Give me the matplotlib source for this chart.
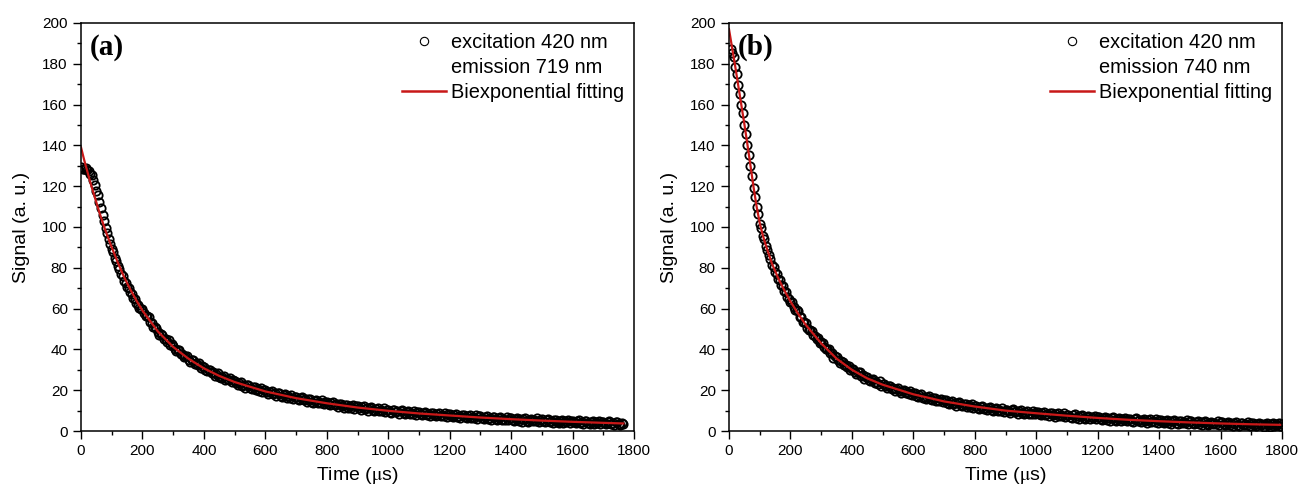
import matplotlib
matplotlib.use("Agg")
import matplotlib.pyplot as plt
from matplotlib.lines import Line2D
from matplotlib.ticker import MultipleLocator

plt.rcParams["font.family"] = ["Liberation Sans", "DejaVu Sans"]
plt.rcParams["mathtext.fontset"] = "stix"

# panel (a): excitation 420 nm / emission 719 nm, read every 5 us from t = 0
signal_a = [
    129.5, 128.6, 128.3, 129.1, 127.7, 127.6, 126.2, 125.3, 122.9, 120.8,
    117.6, 115.5, 112.1, 109.4, 106.0, 103.1, 99.7, 97.2, 94.0, 91.6,
    89.3, 87.6, 84.8, 83.3, 80.7, 79.3, 77.2, 75.8, 73.6, 72.7,
    70.8, 69.9, 67.9, 67.0, 65.1, 64.5, 62.6, 62.0, 60.2, 59.8,
    59.6, 57.7, 56.2, 56.3, 55.8, 53.4, 53.1, 50.9, 51.2, 50.6,
    48.4, 47.1, 47.6, 47.2, 45.2, 45.1, 43.8, 44.5, 42.0, 42.5,
    41.8, 40.3, 39.2, 39.9, 39.8, 37.8, 37.9, 36.1, 37.0, 36.8,
    35.0, 34.0, 34.8, 34.7, 32.9, 33.2, 32.2, 33.1, 30.9, 31.7,
    31.3, 30.0, 29.2, 30.0, 30.1, 28.4, 28.7, 27.1, 28.1, 28.2,
    26.6, 25.8, 26.7, 26.8, 25.2, 25.6, 24.8, 25.9, 23.9, 24.8,
    24.6, 23.5, 22.7, 23.7, 23.9, 22.3, 22.7, 21.3, 22.4, 22.6,
    21.1, 20.4, 21.4, 21.6, 20.1, 20.6, 19.8, 21.0, 19.1, 20.1,
    20.0, 18.9, 18.2, 19.3, 19.6, 18.0, 18.5, 17.1, 18.4, 18.6,
    17.2, 16.6, 17.6, 17.9, 16.4, 17.0, 16.3, 17.6, 15.7, 16.8,
    16.7, 15.7, 15.0, 16.1, 16.5, 15.0, 15.5, 14.2, 15.5, 15.7,
    14.4, 13.8, 14.9, 15.1, 13.7, 14.3, 13.7, 15.0, 13.1, 14.2,
    14.2, 13.2, 12.6, 13.7, 14.1, 12.6, 13.1, 11.8, 13.1, 13.4,
    12.1, 11.5, 12.6, 12.9, 11.5, 12.1, 11.5, 12.8, 11.0, 12.1,
    12.1, 11.1, 10.5, 11.7, 12.1, 10.6, 11.2, 9.9, 11.3, 11.6,
    10.3, 9.7, 10.8, 11.2, 9.8, 10.4, 9.8, 11.1, 9.4, 10.5,
    10.5, 9.5, 9.0, 10.1, 10.5, 9.1, 9.7, 8.4, 9.7, 10.1,
    8.8, 8.2, 9.4, 9.7, 8.4, 9.0, 8.4, 9.8, 8.0, 9.2,
    9.2, 8.3, 7.7, 8.9, 9.3, 7.9, 8.5, 7.3, 8.6, 9.0,
    7.7, 7.2, 8.3, 8.7, 7.3, 8.0, 7.4, 8.8, 7.0, 8.2,
    8.2, 7.3, 6.7, 7.9, 8.3, 6.9, 7.5, 6.3, 7.6, 8.0,
    6.7, 6.2, 7.3, 7.7, 6.3, 7.0, 6.4, 7.8, 6.0, 7.2,
    7.2, 6.3, 5.7, 6.9, 7.3, 5.9, 6.6, 5.3, 6.7, 7.0,
    5.8, 5.3, 6.4, 6.8, 5.4, 6.1, 5.6, 6.9, 5.2, 6.3,
    6.4, 5.5, 4.9, 6.1, 6.5, 5.1, 5.8, 4.5, 5.9, 6.2,
    5.0, 4.5, 5.6, 6.0, 4.7, 5.4, 4.8, 6.2, 4.5, 5.6,
    5.7, 4.8, 4.2, 5.4, 5.9, 4.5, 5.1, 3.9, 5.3, 5.6,
    4.4, 3.9, 5.0, 5.4, 4.1, 4.8, 4.2, 5.6, 3.9, 5.0,
    5.1, 4.2, 3.7, 4.8, 5.3, 3.9, 4.6, 3.4, 4.7, 5.1,
    3.9, 3.4, 4.5, 4.9, 3.6, 4.3, 3.7, 5.1, 3.4, 4.5,
    4.6, 3.7, 3.2, 4.3, 4.8, 3.4, 4.1, 2.9, 4.2, 4.6,
    3.4, 2.9, 4.0, 3.5,
]
time_a = [5 * i for i in range(len(signal_a))]

fit_time_a = [0, 10, 20, 30, 40, 50, 60, 70, 80, 90, 100, 120, 140, 160, 180,
              200, 250, 300, 350, 400, 450, 500, 600, 700, 800, 900, 1000,
              1100, 1200, 1300, 1400, 1500, 1600, 1700, 1765]
fit_a = [139, 133, 127.5, 122, 117, 112, 107, 102.5, 98, 94, 90, 82.5, 75.5, 69.5, 64,
         59, 48.8, 41.2, 35.4, 30.7, 27.0, 24.0, 19.4, 16.1, 13.6, 11.5, 9.9,
         8.6, 7.6, 6.6, 5.8, 5.1, 4.5, 4.0, 3.7]

# panel (b): excitation 420 nm / emission 740 nm, read every 5 us from t = 5
signal_b = [
    187.2, 185.1, 183.4, 178.6, 174.9, 169.6, 165.3, 159.7, 155.8, 150.2,
    145.8, 140.2, 135.4, 129.7, 124.9, 119.2, 114.9, 109.6, 106.4, 101.6,
    99.4, 95.7, 93.9, 90.6, 88.9, 86.1, 84.4, 81.6, 80.4, 78.1,
    76.9, 74.6, 73.9, 71.6, 70.9, 68.6, 67.9, 65.6, 64.9, 63.2,
    63.0, 60.9, 59.3, 59.3, 58.7, 56.1, 55.7, 53.3, 53.6, 52.8,
    50.7, 49.3, 49.6, 49.1, 46.9, 46.7, 45.3, 45.8, 43.2, 43.5,
    42.9, 41.2, 40.0, 40.4, 40.2, 38.0, 38.0, 36.0, 36.7, 36.3,
    34.6, 33.5, 34.2, 34.0, 32.2, 32.3, 31.3, 32.1, 29.9, 30.5,
    30.2, 28.9, 27.9, 28.7, 28.8, 27.0, 27.3, 25.6, 26.6, 26.6,
    25.1, 24.3, 25.2, 25.3, 23.7, 24.0, 23.2, 24.3, 22.3, 23.2,
    23.0, 21.9, 21.1, 22.1, 22.3, 20.6, 21.1, 19.6, 20.8, 20.9,
    19.5, 18.8, 19.8, 20.0, 18.5, 18.9, 18.2, 19.4, 17.5, 18.5,
    18.4, 17.3, 16.7, 17.7, 18.0, 16.4, 16.9, 15.6, 16.8, 17.0,
    15.6, 15.0, 16.0, 16.2, 14.8, 15.3, 14.6, 15.8, 14.0, 15.0,
    15.0, 13.9, 13.3, 14.4, 14.8, 13.2, 13.8, 12.5, 13.7, 14.0,
    12.7, 12.1, 13.1, 13.4, 12.0, 12.6, 12.0, 13.2, 11.4, 12.5,
    12.5, 11.5, 10.9, 12.0, 12.4, 10.9, 11.5, 10.2, 11.5, 11.8,
    10.5, 9.9, 11.0, 11.3, 9.9, 10.5, 9.9, 11.2, 9.4, 10.5,
    10.5, 9.6, 9.0, 10.1, 10.6, 9.1, 9.7, 8.4, 9.8, 10.1,
    8.8, 8.3, 9.4, 9.8, 8.4, 9.0, 8.5, 9.8, 8.1, 9.2,
    9.2, 8.3, 7.7, 8.9, 9.3, 7.8, 8.5, 7.2, 8.6, 8.9,
    7.6, 7.1, 8.2, 8.6, 7.2, 7.8, 7.3, 8.6, 6.9, 8.0,
    8.0, 7.1, 6.5, 7.7, 8.1, 6.6, 7.3, 6.0, 7.4, 7.7,
    6.5, 5.9, 7.1, 7.4, 6.1, 6.7, 6.2, 7.5, 5.8, 6.9,
    7.0, 6.0, 5.5, 6.6, 7.1, 5.6, 6.3, 5.0, 6.4, 6.7,
    5.5, 4.9, 6.1, 6.4, 5.1, 5.8, 5.2, 6.6, 4.8, 6.0,
    6.1, 5.1, 4.6, 5.7, 6.2, 4.8, 5.4, 4.2, 5.5, 5.9,
    4.7, 4.1, 5.3, 5.7, 4.4, 5.0, 4.5, 5.9, 4.1, 5.3,
    5.4, 4.4, 3.9, 5.1, 5.6, 4.1, 4.8, 3.6, 4.9, 5.3,
    4.1, 3.5, 4.7, 5.1, 3.8, 4.4, 3.9, 5.3, 3.5, 4.7,
    4.8, 3.8, 3.3, 4.5, 5.0, 3.5, 4.2, 3.0, 4.3, 4.7,
    3.5, 3.0, 4.1, 4.5, 3.2, 3.9, 3.4, 4.7, 3.0, 4.2,
    4.3, 3.4, 2.8, 4.0, 4.5, 3.1, 3.8, 2.5, 3.9, 4.3,
    3.1, 2.6, 3.7, 4.1, 2.8, 3.5, 3.0, 4.3, 2.6, 3.8,
    3.9, 3.0, 2.5, 3.6, 4.1, 2.7, 3.4, 2.2, 3.6, 4.0,
    2.7, 2.2, 3.4, 3.8, 2.5, 3.2, 2.7, 4.0, 2.3, 3.5,
]
time_b = [5 * (i + 1) for i in range(len(signal_b))]

fit_time_b = [0, 10, 20, 30, 40, 50, 60, 70, 80, 90, 100, 110, 120, 130, 140,
              150, 160, 180, 200, 225, 250, 300, 350, 400, 450, 500, 600,
              700, 800, 900, 1000, 1100, 1200, 1300, 1400, 1500, 1600, 1700, 1800]
fit_b = [197, 188, 179, 169.5, 160, 150.5, 140.5, 130, 119.5, 110, 102, 96, 91, 86.5, 82,
         78.5, 75, 69, 63.5, 57.5, 52, 43, 35.5, 30, 25.8, 22.7, 18,
         14.5, 12, 10, 8.7, 7.5, 6.4, 5.5, 4.8, 4.2, 3.7, 3.3, 3.0]

panels = [
    ("(a)", time_a, signal_a, fit_time_a, fit_a, "emission 719 nm"),
    ("(b)", time_b, signal_b, fit_time_b, fit_b, "emission 740 nm"),
]
lefts = [0.0619, 0.5569]
red = "#c81818"

fig = plt.figure(figsize=(13.09, 4.90), dpi=100)

for (tag, t, s, ft, fs, em), left in zip(panels, lefts):
    ax = fig.add_axes([left, 0.1204, 0.4225, 0.8327])
    ax.plot(t, s, linestyle="none", marker="o", markersize=6,
            markerfacecolor="none", markeredgecolor="black", markeredgewidth=1.3)
    ax.plot(ft, fs, color=red, linewidth=1.6)

    ax.set_xlim(0, 1800)
    ax.set_ylim(0, 200)
    ax.xaxis.set_major_locator(MultipleLocator(200))
    ax.xaxis.set_minor_locator(MultipleLocator(100))
    ax.yaxis.set_major_locator(MultipleLocator(20))
    ax.yaxis.set_minor_locator(MultipleLocator(10))
    ax.tick_params(which="major", direction="out", length=6, width=1,
                   labelsize=11, colors="black")
    ax.tick_params(which="minor", direction="out", length=3, width=1)
    for sp in ax.spines.values():
        sp.set_linewidth(1.1)

    ax.set_xlabel(r"Time ($\mathrm{\mu}$s)", fontsize=14, labelpad=5)
    ax.set_ylabel("Signal (a. u.)", fontsize=14, labelpad=9)

    ax.text(0.015, 0.94, tag, transform=ax.transAxes, fontsize=21,
            fontweight="bold", family="Liberation Serif", va="center", ha="left")

    handles = [
        Line2D([], [], linestyle="none", marker="o", markersize=6,
               markerfacecolor="none", markeredgecolor="black", markeredgewidth=0.8),
        Line2D([], [], linestyle="none"),
        Line2D([], [], color=red, linewidth=1.8),
    ]
    ax.legend(handles, ["excitation 420 nm", em, "Biexponential fitting"],
              loc="upper right", bbox_to_anchor=(1.0, 1.0), frameon=False,
              fontsize=14.4, handlelength=2.2, handletextpad=0.25,
              labelspacing=0.3, borderaxespad=0.1)

fig.savefig("out.png", dpi=100)
